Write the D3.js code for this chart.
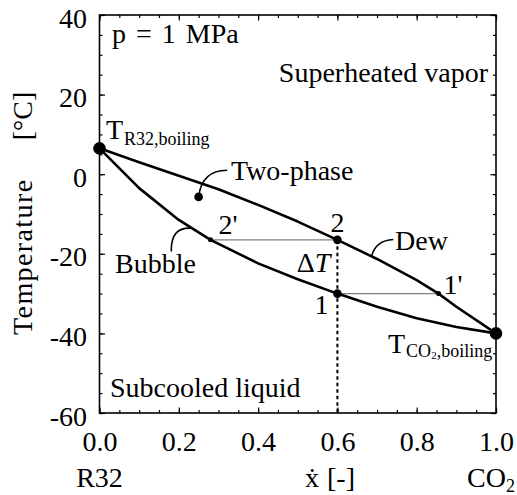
<!DOCTYPE html>
<html>
<head>
<meta charset="utf-8">
<script src="https://cdn.jsdelivr.net/npm/d3@7"></script>
<style>
  html, body { margin: 0; padding: 0; background: #fff; }
  svg { display: block; }
  text { font-family: "Liberation Serif", "Times New Roman", serif; fill: #000; }
</style>
</head>
<body>
<svg id="chart" width="517" height="495"></svg>
<script>
// Mole fraction of CO2 in the R32/CO2 mixture at p = 1 MPa
const dewX      = [0.0, 0.1, 0.2, 0.3, 0.4, 0.5, 0.6, 0.7, 0.8, 0.855, 0.9, 1.0];
const dewT      = [6.5, 3.0, -0.4, -3.8, -7.7, -11.9, -16.5, -21.3, -26.6, -30.0, -33.3, -40.0];
const bubbleX   = [0.0, 0.1, 0.2, 0.28, 0.4, 0.5, 0.6, 0.7, 0.8, 0.9, 1.0];
const bubbleT   = [6.5, -3.5, -11.5, -16.5, -22.4, -26.4, -30.0, -33.3, -36.2, -38.4, -40.0];

// Marked states: pure-component boiling points, states 1/2 and their equilibrium partners
const boilX  = [0.0, 1.0];
const boilT  = [6.5, -40.0];
const stateNames = ["2", "1"];
const stateX     = [0.6, 0.6];
const stateT     = [-16.5, -30.0];
const partnerNames = ["2'", "1'"];
const partnerX     = [0.28, 0.855];
const partnerT     = [-16.5, -30.0];
const twoPhaseX = 0.25, twoPhaseT = -5.7;

// Axis ticks
const xMajor = [0.0, 0.2, 0.4, 0.6, 0.8, 1.0];
const yMajor = [40, 20, 0, -20, -40, -60];
const xMinor = d3.range(0, 1.0001, 0.05);
const yMinor = d3.range(-60, 40.001, 5);

const svg = d3.select("#chart");
const plotL = 99.5, plotR = 496, plotT = 15, plotB = 413;

const x = d3.scaleLinear().domain([0, 1]).range([plotL, plotR]);
const y = d3.scaleLinear().domain([-60, 40]).range([plotB, plotT]);

const FS = 28, SUB = 18;

// Frame with inward ticks on all four sides
const fmtX = d => d3.format(".1f")(d);
const fmtY = d => String(d);

function drawAxis(axisFn, scale, translate, values, size, fmt) {
  const a = axisFn(scale).tickValues(values).tickSizeInner(-size).tickSizeOuter(0);
  if (fmt) a.tickFormat(fmt); else a.tickFormat("");
  const g = svg.append("g").attr("transform", translate).call(a)
    .attr("font-family", null).attr("font-size", null);
  g.select(".domain").remove();
  g.selectAll(".tick line").attr("stroke", "#000").attr("stroke-width", 1.2);
  g.selectAll(".tick text").style("font-size", FS + "px").attr("fill", "#000");
  return g;
}
drawAxis(d3.axisBottom, x, `translate(0,${plotB})`, xMinor, 3);
drawAxis(d3.axisBottom, x, `translate(0,${plotB})`, xMajor, 5.5, fmtX)
  .selectAll(".tick text").attr("y", 38).attr("dy", 0);
drawAxis(d3.axisTop, x, `translate(0,${plotT})`, xMinor, 3);
drawAxis(d3.axisTop, x, `translate(0,${plotT})`, xMajor, 5.5);
drawAxis(d3.axisLeft, y, `translate(${plotL},0)`, yMinor, 3);
drawAxis(d3.axisLeft, y, `translate(${plotL},0)`, yMajor, 5.5, fmtY)
  .selectAll(".tick text").attr("x", -12.5).attr("y", 12).attr("dy", 0);
drawAxis(d3.axisRight, y, `translate(${plotR},0)`, yMinor, 3);
drawAxis(d3.axisRight, y, `translate(${plotR},0)`, yMajor, 5.5);

svg.append("rect")
  .attr("x", plotL).attr("y", plotT).attr("width", plotR - plotL).attr("height", plotB - plotT)
  .attr("fill", "none").attr("stroke", "#000").attr("stroke-width", 1.6);

// Tie lines between coexisting liquid and vapour states
const tie = svg.append("g").attr("stroke", "#808080").attr("stroke-width", 1.2);
tie.append("line").attr("x1", x(partnerX[0])).attr("x2", x(stateX[0]))
  .attr("y1", y(partnerT[0])).attr("y2", y(stateT[0]));
tie.append("line").attr("x1", x(stateX[1])).attr("x2", x(partnerX[1]))
  .attr("y1", y(stateT[1])).attr("y2", y(partnerT[1]));

// Constant composition line through states 1 and 2
svg.append("line")
  .attr("x1", x(stateX[0])).attr("x2", x(stateX[0]))
  .attr("y1", y(stateT[0])).attr("y2", y(-60))
  .attr("stroke", "#000").attr("stroke-width", 2).attr("stroke-dasharray", "3.5,3");

// Dew and bubble curves
const line = d3.line().x(d => x(d[0])).y(d => y(d[1]));
svg.append("path").datum(dewX.map((v, i) => [v, dewT[i]]))
  .attr("d", line).attr("fill", "none").attr("stroke", "#000").attr("stroke-width", 2.6)
  .attr("stroke-linejoin", "round");
svg.append("path").datum(bubbleX.map((v, i) => [v, bubbleT[i]]))
  .attr("d", line).attr("fill", "none").attr("stroke", "#000").attr("stroke-width", 2.6)
  .attr("stroke-linejoin", "round");

// Leader lines for the curve and region labels (start, control, end in data units)
const leaders = [
  { p0: [0.25, -5.7],   c: [0.258, 1.0],   p1: [0.322, 1.0] },   // Two-phase
  { p0: [0.234, -13.6], c: [0.18, -13.0],  p1: [0.181, -19.4] }, // Bubble
  { p0: [0.686, -20.6], c: [0.697, -16.6], p1: [0.741, -16.4] }  // Dew
];
svg.append("g").selectAll("path").data(leaders).join("path")
  .attr("d", d => `M${x(d.p0[0])},${y(d.p0[1])} Q${x(d.c[0])},${y(d.c[1])} ${x(d.p1[0])},${y(d.p1[1])}`)
  .attr("fill", "none").attr("stroke", "#000").attr("stroke-width", 1.6);

// Markers
const dots = svg.append("g");
dots.selectAll(".boil").data(boilX).join("circle").attr("class", "boil")
  .attr("cx", d => x(d)).attr("cy", (d, i) => y(boilT[i])).attr("r", 6.3);
dots.selectAll(".state").data(stateX).join("circle").attr("class", "state")
  .attr("cx", d => x(d)).attr("cy", (d, i) => y(stateT[i])).attr("r", 4.3);
dots.selectAll(".partner").data(partnerX).join("circle").attr("class", "partner")
  .attr("cx", d => x(d)).attr("cy", (d, i) => y(partnerT[i])).attr("r", 2.5);
dots.append("circle").attr("cx", x(twoPhaseX)).attr("cy", y(twoPhaseT)).attr("r", 4.3);

// Text annotations
function label(px, py, str, anchor) {
  return svg.append("text").attr("x", px).attr("y", py)
    .attr("text-anchor", anchor || "start").style("font-size", FS + "px").text(str);
}
label(112, 43, "p = 1 MPa").style("word-spacing", "3px");
label(488, 82, "Superheated vapor", "end");
label(110, 397, "Subcooled liquid");
label(231, 180, "Two-phase");
label(115, 273, "Bubble");
label(395, 250, "Dew");

label(x(partnerX[0]) + 8, y(partnerT[0]) - 6, partnerNames[0]);
label(x(stateX[0]), y(stateT[0]) - 8, stateNames[0], "middle");
label(x(stateX[1]) - 9, y(stateT[1]) + 20, stateNames[1], "end");
label(x(partnerX[1]) + 5, y(partnerT[1]) + 0, partnerNames[1]);
const dT = label(x(stateX[0]) - 7, 272, "", "end");
dT.append("tspan").text("Δ");
dT.append("tspan").style("font-style", "italic").text("T");

// Boiling-point labels with subscripts
const tR = label(106, 139, "T");
tR.append("tspan").attr("dx", 1).attr("dy", 6).style("font-size", SUB + "px").text("R32,boiling");
const tC = label(388, 353, "T");
tC.append("tspan").attr("dx", 1).attr("dy", 4).style("font-size", SUB + "px").text("CO");
tC.append("tspan").attr("dy", 2).style("font-size", "11px").text("2");
tC.append("tspan").attr("dy", -2).style("font-size", SUB + "px").text(",boiling");

// Axis titles
label(x(0), 487, "R32", "middle");
const co2 = label(467, 487, "CO");
co2.append("tspan").attr("dy", 5).style("font-size", SUB + "px").text("2");
label(312, 487, "\u1E8B", "middle");
label(341, 487, "[-]", "middle");

svg.append("text")
  .attr("transform", "translate(32,335) rotate(-90)")
  .attr("text-anchor", "start").style("font-size", FS + "px")
  .style("letter-spacing", "1.4px")
  .text("Temperature");
svg.append("text")
  .attr("transform", "translate(32,116) rotate(-90)")
  .attr("text-anchor", "middle").style("font-size", FS + "px")
  .text("[°C]");
</script>
</body>
</html>
